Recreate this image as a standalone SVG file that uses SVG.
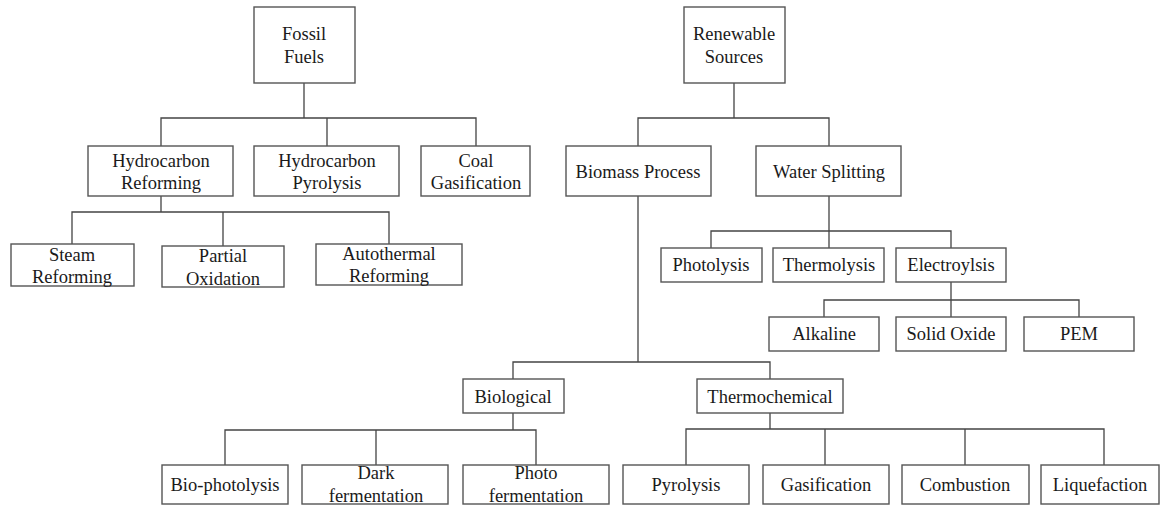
<svg xmlns="http://www.w3.org/2000/svg" width="1161" height="505" viewBox="0 0 1161 505">
<style>
.box{fill:#fff;stroke:#555;stroke-width:1.4}
.t{font-family:"Liberation Serif","Times New Roman",serif;font-size:18.5px;fill:#1a1a1a;text-anchor:middle}
.c{fill:none;stroke:#444;stroke-width:1.3}
</style>
<rect width="1161" height="505" fill="#fff"/>
<g id="connectors">
<path class="c" d="M304 83V118M161 146V118H476V146M327 118V146"/>
<path class="c" d="M161 196V212M72 244V212H389V244M223 212V246"/>
<path class="c" d="M734 83V118M638 146V118H829V146"/>
<path class="c" d="M829 196V231M711 248V231H951V248M829 231V248"/>
<path class="c" d="M951 282V300M824 317V300H1079V317M951 300V317"/>
<path class="c" d="M638 196V362M513 379V362H770V379"/>
<path class="c" d="M513 413V430M225 465V430H536V465M376 430V465"/>
<path class="c" d="M770 413V429M686 465V429H1104V465M825 429V465M965 429V465"/>
</g>
<g id="fossil"><rect class="box" x="254" y="7" width="101" height="76"/><text class="t" x="304" y="40">Fossil</text><text class="t" x="304" y="63">Fuels</text></g>
<g id="renewable"><rect class="box" x="684" y="7" width="101" height="76"/><text class="t" x="734" y="40">Renewable</text><text class="t" x="734" y="63">Sources</text></g>
<g id="hc-reforming"><rect class="box" x="88" y="146" width="145" height="50"/><text class="t" x="161" y="167">Hydrocarbon</text><text class="t" x="161" y="189">Reforming</text></g>
<g id="hc-pyrolysis"><rect class="box" x="254" y="146" width="145" height="50"/><text class="t" x="327" y="167">Hydrocarbon</text><text class="t" x="327" y="189">Pyrolysis</text></g>
<g id="coal"><rect class="box" x="421" y="146" width="109" height="50"/><text class="t" x="476" y="167">Coal</text><text class="t" x="476" y="189">Gasification</text></g>
<g id="steam"><rect class="box" x="11" y="244" width="123" height="42"/><text class="t" x="72" y="261">Steam</text><text class="t" x="72" y="283">Reforming</text></g>
<g id="partial"><rect class="box" x="162" y="246" width="122" height="41"/><text class="t" x="223" y="262">Partial</text><text class="t" x="223" y="285">Oxidation</text></g>
<g id="autothermal"><rect class="box" x="316" y="244" width="146" height="41"/><text class="t" x="389" y="260">Autothermal</text><text class="t" x="389" y="282">Reforming</text></g>
<g id="biomass"><rect class="box" x="566" y="146" width="145" height="50"/><text class="t" x="638" y="178">Biomass Process</text></g>
<g id="water"><rect class="box" x="756" y="146" width="145" height="50"/><text class="t" x="829" y="178">Water Splitting</text></g>
<g id="photolysis"><rect class="box" x="661" y="248" width="101" height="34"/><text class="t" x="711" y="271">Photolysis</text></g>
<g id="thermolysis"><rect class="box" x="773" y="248" width="111" height="34"/><text class="t" x="829" y="271">Thermolysis</text></g>
<g id="electrolysis"><rect class="box" x="896" y="248" width="110" height="34"/><text class="t" x="951" y="271">Electroylsis</text></g>
<g id="alkaline"><rect class="box" x="769" y="317" width="110" height="34"/><text class="t" x="824" y="340">Alkaline</text></g>
<g id="solid-oxide"><rect class="box" x="896" y="317" width="110" height="34"/><text class="t" x="951" y="340">Solid Oxide</text></g>
<g id="pem"><rect class="box" x="1024" y="317" width="110" height="34"/><text class="t" x="1079" y="340">PEM</text></g>
<g id="biological"><rect class="box" x="463" y="379" width="101" height="34"/><text class="t" x="513" y="403">Biological</text></g>
<g id="thermochemical"><rect class="box" x="697" y="379" width="146" height="34"/><text class="t" x="770" y="403">Thermochemical</text></g>
<g id="bio-photolysis"><rect class="box" x="162" y="465" width="126" height="39"/><text class="t" x="225" y="491">Bio-photolysis</text></g>
<g id="dark"><rect class="box" x="302" y="465" width="146" height="39"/><text class="t" x="376" y="479">Dark</text><text class="t" x="376" y="502">fermentation</text></g>
<g id="photo"><rect class="box" x="463" y="465" width="146" height="39"/><text class="t" x="536" y="479">Photo</text><text class="t" x="536" y="502">fermentation</text></g>
<g id="pyrolysis"><rect class="box" x="623" y="465" width="126" height="39"/><text class="t" x="686" y="491">Pyrolysis</text></g>
<g id="gasification"><rect class="box" x="763" y="465" width="126" height="39"/><text class="t" x="826" y="491">Gasification</text></g>
<g id="combustion"><rect class="box" x="902" y="465" width="127" height="39"/><text class="t" x="965" y="491">Combustion</text></g>
<g id="liquefaction"><rect class="box" x="1041" y="465" width="118" height="39"/><text class="t" x="1100" y="491">Liquefaction</text></g>
</svg>
